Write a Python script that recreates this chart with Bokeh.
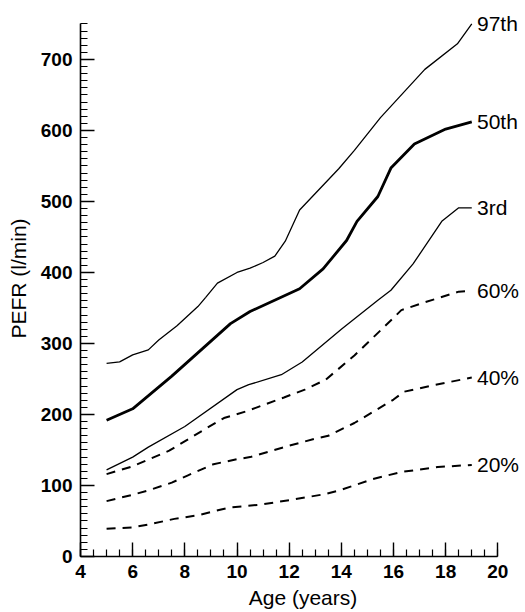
from bokeh.plotting import figure
from bokeh.models import Range1d, SingleIntervalTicker, ColumnDataSource
from bokeh.embed import file_html
from bokeh.resources import INLINE
from bokeh.core.properties import value

# ---- data ----
age_97 = [5.0, 5.5, 6.0, 6.6, 7.0, 7.7, 8.5, 8.8, 9.25, 10.0, 10.5, 11.0, 11.45, 11.85, 12.4, 13.9, 14.5, 15.5, 17.2, 18.45, 19.0]
pefr_97 = [272, 274, 284, 291, 305, 325, 352, 365, 385, 400, 406, 414, 423, 444, 488, 546, 572, 618, 686, 722, 750]

age_50 = [5.0, 6.0, 7.5, 9.75, 10.5, 12.4, 13.3, 14.2, 14.6, 15.4, 15.9, 16.8, 18.0, 19.0]
pefr_50 = [192, 208, 254, 328, 345, 377, 405, 445, 472, 507, 547, 581, 602, 612]

age_3 = [5.0, 6.0, 6.6, 8.0, 10.0, 10.45, 11.7, 12.5, 14.0, 15.4, 15.9, 16.75, 17.85, 18.5, 19.0]
pefr_3 = [122, 140, 154, 183, 235, 242, 256, 274, 320, 361, 375, 412, 472, 491, 491]

age_60 = [5.0, 6.0, 7.4, 8.8, 9.5, 10.4, 11.8, 12.6, 13.4, 14.5, 16.0, 16.3, 17.2, 18.5, 19.0]
pefr_60 = [116, 127, 149, 180, 195, 205, 224, 235, 249, 283, 336, 347, 358, 373, 374]

age_40 = [5.0, 6.0, 6.6, 7.5, 8.1, 9.1, 10.0, 10.5, 12.0, 13.0, 13.5, 14.5, 16.0, 16.4, 17.5, 19.0]
pefr_40 = [78, 87, 93, 104, 114, 130, 137, 140, 156, 166, 170, 188, 221, 232, 241, 252]

age_20 = [5.0, 6.0, 6.6, 7.6, 8.5, 9.7, 10.9, 12.1, 13.4, 14.0, 15.2, 16.3, 17.7, 19.0]
pefr_20 = [39, 41, 45, 53, 58, 69, 73, 80, 88, 94, 109, 119, 126, 129]

curve_labels = ["97th", "50th", "3rd", "60%", "40%", "20%"]
label_age = 19.2

x_ticks_interval = 2
y_ticks_interval = 100

FONT = "Liberation Sans"

p = figure(width=525, height=612, output_backend="svg", toolbar_location=None,
           x_range=Range1d(4, 21.06), y_range=Range1d(0, 783),
           min_border_left=80, min_border_right=0, min_border_top=0, min_border_bottom=56)
p.outline_line_color = None
p.grid.visible = False
p.background_fill_color = "white"
p.border_fill_color = "white"

# lines
p.line(age_97, pefr_97, line_color="black", line_width=1.3)
p.line(age_50, pefr_50, line_color="black", line_width=2.8)
p.line(age_3, pefr_3, line_color="black", line_width=1.3)
for xs, ys in [(age_60, pefr_60), (age_40, pefr_40), (age_20, pefr_20)]:
    p.line(xs, ys, line_color="black", line_width=2.0, line_dash="9 7")

ends = [pefr_97[-1], pefr_50[-1], pefr_3[-1], pefr_60[-1], pefr_40[-1], pefr_20[-1]]
src = ColumnDataSource(dict(x=[label_age] * len(curve_labels), y=ends, t=curve_labels))
p.text(x="x", y="y", text="t", source=src, text_font=value(FONT), text_font_size="21px",
       text_baseline="middle", text_align="left", text_color="black")

# axes
xa = p.xaxis[0]
xa.ticker = SingleIntervalTicker(interval=x_ticks_interval, num_minor_ticks=4)
xa.bounds = (4, 20)
xa.axis_label = "Age (years)"
ya = p.yaxis[0]
ya.ticker = SingleIntervalTicker(interval=y_ticks_interval, num_minor_ticks=10)
ya.bounds = (0, 750)
ya.axis_label = "PEFR (l/min)"

for ax in (xa, ya):
    ax.axis_line_color = "black"
    ax.axis_line_width = 1.6
    ax.major_tick_line_color = "black"
    ax.minor_tick_line_color = "black"
    ax.major_tick_line_width = 1.4
    ax.minor_tick_line_width = 1.2
    ax.major_tick_in = 14
    ax.major_tick_out = 0
    ax.minor_tick_in = 7
    ax.minor_tick_out = 0
    ax.major_label_text_font = FONT
    ax.major_label_text_font_style = "bold"
    ax.major_label_text_font_size = "19px"
    ax.major_label_text_color = "black"
    ax.axis_label_text_font = FONT
    ax.axis_label_text_font_style = "normal"
    ax.axis_label_text_font_size = "21px"
    ax.axis_label_text_color = "black"

xa.major_label_standoff = 8
xa.axis_label_standoff = 5
ya.major_label_standoff = 8
ya.axis_label_standoff = 8

open("out.html", "w").write(file_html(p, INLINE))
